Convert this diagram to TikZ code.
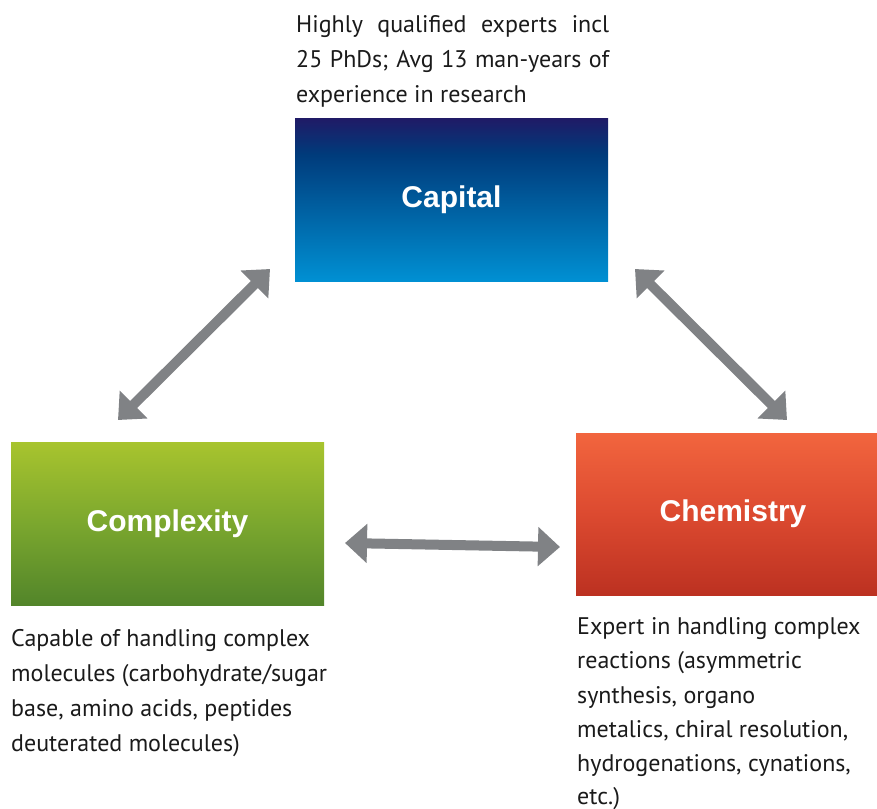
\documentclass[tikz,border=0pt]{standalone}
\usepackage{fontspec}
\setmainfont{PT Sans}
\newfontfamily\titlefont{Liberation Sans}
\usetikzlibrary{arrows.meta}
\definecolor{capA}{HTML}{201A66}
\definecolor{capB}{HTML}{003B7B}
\definecolor{capC}{HTML}{0090D3}
\definecolor{cmpA}{HTML}{A8C42E}
\definecolor{cmpB}{HTML}{7BA72E}
\definecolor{cmpC}{HTML}{52852A}
\definecolor{chmA}{HTML}{F2653E}
\definecolor{chmB}{HTML}{DC4A30}
\definecolor{chmC}{HTML}{BC3121}
\definecolor{arrowgray}{HTML}{808285}
\definecolor{txt}{HTML}{1A1A1A}
\pgfdeclareverticalshading{capshade}{100bp}{color(0bp)=(capC); color(25bp)=(capC); color(64bp)=(capB); color(75bp)=(capA); color(100bp)=(capA)}
\pgfdeclareverticalshading{cmpshade}{100bp}{color(0bp)=(cmpC); color(25bp)=(cmpC); color(50bp)=(cmpB); color(75bp)=(cmpA); color(100bp)=(cmpA)}
\pgfdeclareverticalshading{chmshade}{100bp}{color(0bp)=(chmC); color(25bp)=(chmC); color(50bp)=(chmB); color(75bp)=(chmA); color(100bp)=(chmA)}
\begin{document}
\begin{tikzpicture}[x=1pt,y=-1pt,
  box/.style={inner sep=0pt, minimum width=313pt, minimum height=163pt,
    text=white, font=\titlefont\bfseries\fontsize{30}{36}\selectfont},
  body/.style={inner sep=0pt, anchor=base west, text=txt,
    font=\fontsize{24}{34}\selectfont},
  garrow/.style={draw=arrowgray, line width=10pt,
    {Triangle[length=22pt,width=38pt]}-{Triangle[length=22pt,width=38pt]}}]
\useasboundingbox (0,0) rectangle (877,808);

\node[box, shading=capshade] (capital) at (451.5,199.5) {Capital};
\node[box, shading=cmpshade] (complexity) at (167.5,523.5) {Complexity};
\node[box, shading=chmshade, minimum width=314pt, minimum height=162pt] (chemistry) at (733,514) {Chemistry};

% top text
\node[body] (top1) at (296,33) {\makebox[313pt][s]{Highly qualified experts incl}};
\node[body] (top2) at (296,67.5) {\makebox[313pt][s]{25 PhDs; Avg 13 man-years of}};
\node[body] (top3) at (296,102) {experience in research};

% left text
\node[body] (l1) at (11,646) {Capable of handling complex};
\node[body] (l2) at (11,681) {molecules (carbohydrate/sugar};
\node[body] (l3) at (11,716) {base, amino acids, peptides};
\node[body] (l4) at (11,751) {deuterated molecules)};

% right text
\node[body] (r1) at (577,634) {Expert in handling complex};
\node[body] (r2) at (577,668.5) {reactions (asymmetric};
\node[body] (r3) at (577,703) {synthesis, organo};
\node[body] (r4) at (577,737) {metalics, chiral resolution,};
\node[body] (r5) at (577,771) {hydrogenations, cynations,};
\node[body] (r6) at (577,804) {etc.)};

% arrows
\coordinate (a1) at (270,269);
\coordinate (a2) at (118,420);
\coordinate (b1) at (635,269);
\coordinate (b2) at (787,420);
\coordinate (c1) at (345,543);
\coordinate (c2) at (560,547);
\draw[garrow] (a1) -- (a2);
\draw[garrow] (b1) -- (b2);
\draw[garrow] (c1) -- (c2);
\end{tikzpicture}
\end{document}
